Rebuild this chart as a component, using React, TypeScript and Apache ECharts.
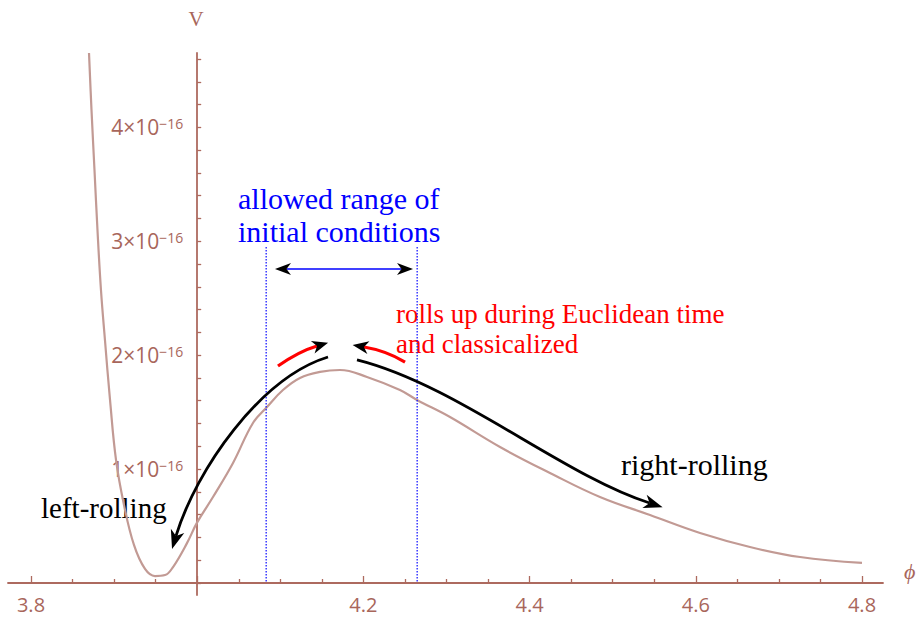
import React, { useEffect, useRef } from "react";
import * as echarts from "echarts";

// ---- data (V in units of 1e-16) ----
const PHI = [
  3.8698, 3.8728, 3.8764, 3.88, 3.8842, 3.889, 3.8951, 3.9023, 3.9119, 3.9239,
  3.9372, 3.9492, 3.9613, 3.9709, 3.9877, 3.9998, 4.019, 4.0431, 4.0671, 4.084,
  4.1032, 4.1237, 4.1478, 4.1718, 4.2043, 4.244, 4.2645, 4.3042, 4.3644, 4.4245,
  4.4847, 4.5449, 4.6051, 4.6652, 4.7254, 4.8,
];
const V = [
  4.653, 4.153, 3.626, 3.099, 2.572, 2.133, 1.607, 1.08, 0.685, 0.334,
  0.123, 0.061, 0.07, 0.14, 0.35, 0.53, 0.755, 1.054, 1.405, 1.545,
  1.694, 1.8, 1.853, 1.87, 1.809, 1.694, 1.607, 1.457, 1.194, 0.966,
  0.755, 0.597, 0.439, 0.316, 0.228, 0.176,
];
const X_TICK_LABELS = [3.8, 4.2, 4.4, 4.6, 4.8];
const Y_TICK_LABELS = [1, 2, 3, 4];

// annotation geometry in data coordinates (phi, V)
const ALLOWED_RANGE = [4.083, 4.2647];
const ALLOWED_TOP = 2.95;
const RANGE_ARROW = [[4.0936, 2.757], [4.2597, 2.757]];
const LEFT_ROLL = [[4.1574, 1.984], [4.0756, 1.8], [3.9986, 0.992], [3.9745, 0.413]];
const RIGHT_ROLL = [[4.1923, 1.958], [4.3126, 1.738], [4.439, 0.948], [4.5444, 0.702]];
const RED_LEFT = [[4.0972, 1.905], [4.1093, 1.967], [4.1237, 2.037], [4.1442, 2.081]];
const RED_RIGHT = [[4.2501, 1.94], [4.238, 1.993], [4.2224, 2.046], [4.2007, 2.072]];

const TEXT_BLUE = ["allowed range of", "initial conditions"];
const TEXT_RED = ["rolls up during Euclidean time", "and classicalized"];

// ---- layout ----
const W = 916;
const H = 619;
const PX_X0 = 31; // phi=3.8
const PX_X1 = 862; // phi=4.8
const PX_Y0 = 583; // V=0
const PX_YT = 59; // V=4.6
const AX_LEFT = 8;
const AX_RIGHT = 883;
const AX_TOP = 53;
const AX_BOTTOM = 595;
const X_MIN = 3.8, X_MAX = 4.8, Y_MIN = 0, Y_MAX = 4.6;
const pxPerX = (PX_X1 - PX_X0) / (X_MAX - X_MIN);
const pxPerY = (PX_Y0 - PX_YT) / (Y_MAX - Y_MIN);
const WX_MIN = X_MIN - (PX_X0 - AX_LEFT) / pxPerX;
const WX_MAX = X_MAX + (AX_RIGHT - PX_X1) / pxPerX;
const WY_MIN = Y_MIN - (AX_BOTTOM - PX_Y0) / pxPerY;
const WY_MAX = Y_MAX + (PX_YT - AX_TOP) / pxPerY;

const AXIS_COLOR = "#ad6a5f";
const CURVE_COLOR = "#c29a94";
const LABEL_COLOR = "#a8665b";
const SANS = "Open Sans";
const SERIF = "Liberation Serif";

function norm(dx: number, dy: number) {
  const l = Math.hypot(dx, dy) || 1;
  return [dx / l, dy / l];
}

function head(tip: number[], dir: number[], L: number, Wd: number, fill: string) {
  const nx = -dir[1], ny = dir[0];
  const bx = tip[0] - dir[0] * L, by = tip[1] - dir[1] * L;
  const notch = [tip[0] - dir[0] * L * 0.72, tip[1] - dir[1] * L * 0.72];
  return {
    type: "polygon",
    shape: {
      points: [
        tip,
        [bx + (nx * Wd) / 2, by + (ny * Wd) / 2],
        notch,
        [bx - (nx * Wd) / 2, by - (ny * Wd) / 2],
      ],
    },
    style: { fill },
    z2: 20,
  };
}

function curvedArrow(api: any, pts: number[][], stroke: string, lw: number, L: number, Wd: number) {
  const p = pts.map((q) => api.coord(q));
  const dir = norm(p[3][0] - p[2][0], p[3][1] - p[2][1]);
  const tip = [p[3][0] + dir[0] * L * 0.72, p[3][1] + dir[1] * L * 0.72];
  return [
    {
      type: "bezierCurve",
      shape: {
        x1: p[0][0], y1: p[0][1],
        cpx1: p[1][0], cpy1: p[1][1],
        cpx2: p[2][0], cpy2: p[2][1],
        x2: p[3][0], y2: p[3][1],
      },
      style: { stroke, lineWidth: lw, fill: "none" },
      z2: 10,
    },
    head(tip, dir, L, Wd, "#000"),
  ];
}

export default function App() {
  const ref = useRef<HTMLDivElement>(null);
  useEffect(() => {
    if (!ref.current) return;
    const chart = echarts.init(ref.current, undefined, { renderer: "svg" });

    const annotations = ["vlines", "range", "left", "right", "redL", "redR"];

    const option: any = {
      animation: false,
      backgroundColor: "#ffffff",
      grid: [
        { left: PX_X0, right: W - PX_X1, top: PX_YT, bottom: H - PX_Y0, containLabel: false },
        { left: AX_LEFT, right: W - AX_RIGHT, top: AX_TOP, bottom: H - AX_BOTTOM, containLabel: false },
      ],
      xAxis: [
        {
          type: "value",
          gridIndex: 0,
          min: X_MIN,
          max: X_MAX,
          interval: 0.2,
          axisLine: { show: false },
          splitLine: { show: false },
          axisTick: { show: true, inside: true, length: 7, lineStyle: { color: AXIS_COLOR, width: 1.3 } },
          minorTick: { show: true, splitNumber: 4, length: 4, lineStyle: { color: AXIS_COLOR, width: 1.3 } },
          axisLabel: {
            margin: 11,
            color: LABEL_COLOR,
            fontFamily: SANS,
            fontSize: 20,
            formatter: (v: number) =>
              X_TICK_LABELS.some((t) => Math.abs(t - v) < 1e-6) ? v.toFixed(1) : "",
          },
        },
        {
          type: "value",
          gridIndex: 1,
          min: WX_MIN,
          max: WX_MAX,
          axisLine: { show: true, onZero: true, lineStyle: { color: AXIS_COLOR, width: 1.8 } },
          axisTick: { show: false },
          axisLabel: { show: false },
          splitLine: { show: false },
        },
      ],
      yAxis: [
        {
          type: "value",
          gridIndex: 0,
          min: Y_MIN,
          max: Y_MAX,
          interval: 0.2,
          position: "left",
          offset: -(4.0 - X_MIN) * pxPerX,
          axisLine: { show: false },
          splitLine: { show: false },
          axisTick: { show: true, inside: true, length: 4, lineStyle: { color: AXIS_COLOR, width: 1.3 } },
          axisLabel: {
            margin: 14,
            color: LABEL_COLOR,
            fontFamily: SANS,
            fontSize: 21,
            formatter: (v: number) => {
              const k = Math.round(v);
              if (Math.abs(v - k) < 1e-6 && Y_TICK_LABELS.includes(k)) return `{b|${k}\u00d710}{s|\u221216}`;
              return "";
            },
            rich: {
              b: { fontSize: 21, fontFamily: SANS, color: LABEL_COLOR },
              s: { fontSize: 14, fontFamily: SANS, color: LABEL_COLOR, verticalAlign: "top" },
            },
          },
        },
        {
          type: "value",
          gridIndex: 1,
          min: WY_MIN,
          max: WY_MAX,
          position: "left",
          offset: -(4.0 - WX_MIN) * pxPerX,
          axisLine: { show: true, onZero: false, lineStyle: { color: AXIS_COLOR, width: 1.8 } },
          axisTick: { show: false },
          axisLabel: { show: false },
          splitLine: { show: false },
        },
      ],
      series: [
        {
          type: "line",
          xAxisIndex: 1,
          yAxisIndex: 1,
          data: PHI.map((x, i) => [x, V[i]]),
          showSymbol: false,
          smooth: 0.4,
          clip: true,
          lineStyle: { color: CURVE_COLOR, width: 2.2 },
          z: 2,
        },
        {
          type: "custom",
          xAxisIndex: 0,
          yAxisIndex: 0,
          clip: false,
          z: 5,
          data: annotations.map(() => [4.2, 1]),
          renderItem: (params: any, api: any) => {
            const kind = annotations[params.dataIndex];
            let children: any[] = [];
            if (kind === "vlines") {
              children = ALLOWED_RANGE.map((x) => {
                const a = api.coord([x, ALLOWED_TOP]);
                const b = api.coord([x, 0]);
                return {
                  type: "line",
                  shape: { x1: a[0], y1: a[1], x2: b[0], y2: b[1] },
                  style: { stroke: "#1a1aff", lineWidth: 1.3, lineDash: [1.5, 1.5] },
                };
              });
            } else if (kind === "range") {
              const a = api.coord(RANGE_ARROW[0]);
              const b = api.coord(RANGE_ARROW[1]);
              const d = norm(b[0] - a[0], b[1] - a[1]);
              const L = 16, Wd = 12;
              children = [
                {
                  type: "line",
                  shape: {
                    x1: a[0] + d[0] * L * 0.72, y1: a[1] + d[1] * L * 0.72,
                    x2: b[0] - d[0] * L * 0.72, y2: b[1] - d[1] * L * 0.72,
                  },
                  style: { stroke: "#0000ff", lineWidth: 1.6 },
                },
                head(b, d, L, Wd, "#000"),
                head(a, [-d[0], -d[1]], L, Wd, "#000"),
              ];
            } else if (kind === "left") {
              children = curvedArrow(api, LEFT_ROLL, "#000", 2.8, 19, 14);
            } else if (kind === "right") {
              children = curvedArrow(api, RIGHT_ROLL, "#000", 2.8, 19, 14);
            } else if (kind === "redL") {
              children = curvedArrow(api, RED_LEFT, "#ff0000", 3.2, 16, 13);
            } else if (kind === "redR") {
              children = curvedArrow(api, RED_RIGHT, "#ff0000", 3.2, 16, 13);
            }
            return { type: "group", children };
          },
        },
      ],
      graphic: [
        { type: "text", x: 238, y: 198.8, style: { text: TEXT_BLUE[0], fill: "#0000ff", font: `30px "${SERIF}"`, verticalAlign: "middle" } },
        { type: "text", x: 238, y: 231.8, style: { text: TEXT_BLUE[1], fill: "#0000ff", font: `30px "${SERIF}"`, verticalAlign: "middle" } },
        { type: "text", x: 396, y: 314.3, style: { text: TEXT_RED[0], fill: "#ff0000", font: `27px "${SERIF}"`, verticalAlign: "middle" } },
        { type: "text", x: 396, y: 343.8, style: { text: TEXT_RED[1], fill: "#ff0000", font: `27px "${SERIF}"`, verticalAlign: "middle" } },
        { type: "text", x: 41, y: 508, style: { text: "left-rolling", fill: "#000", font: `29px "${SERIF}"`, verticalAlign: "middle" } },
        { type: "text", x: 621, y: 464.8, style: { text: "right-rolling", fill: "#000", font: `30px "${SERIF}"`, verticalAlign: "middle" } },
        { type: "text", x: 196, y: 19, style: { text: "V", fill: LABEL_COLOR, font: `21px "${SERIF}"`, align: "center", verticalAlign: "middle" } },
        { type: "text", x: 904, y: 571, style: { text: "\u03d5", fill: LABEL_COLOR, font: `italic 22px "${SERIF}"`, verticalAlign: "middle" } },
      ],
    };

    chart.setOption(option);
    return () => chart.dispose();
  }, []);

  return (
    <div
      ref={ref}
      style={{ position: "fixed", left: 0, top: 0, width: W, height: H, background: "#fff" }}
    />
  );
}
